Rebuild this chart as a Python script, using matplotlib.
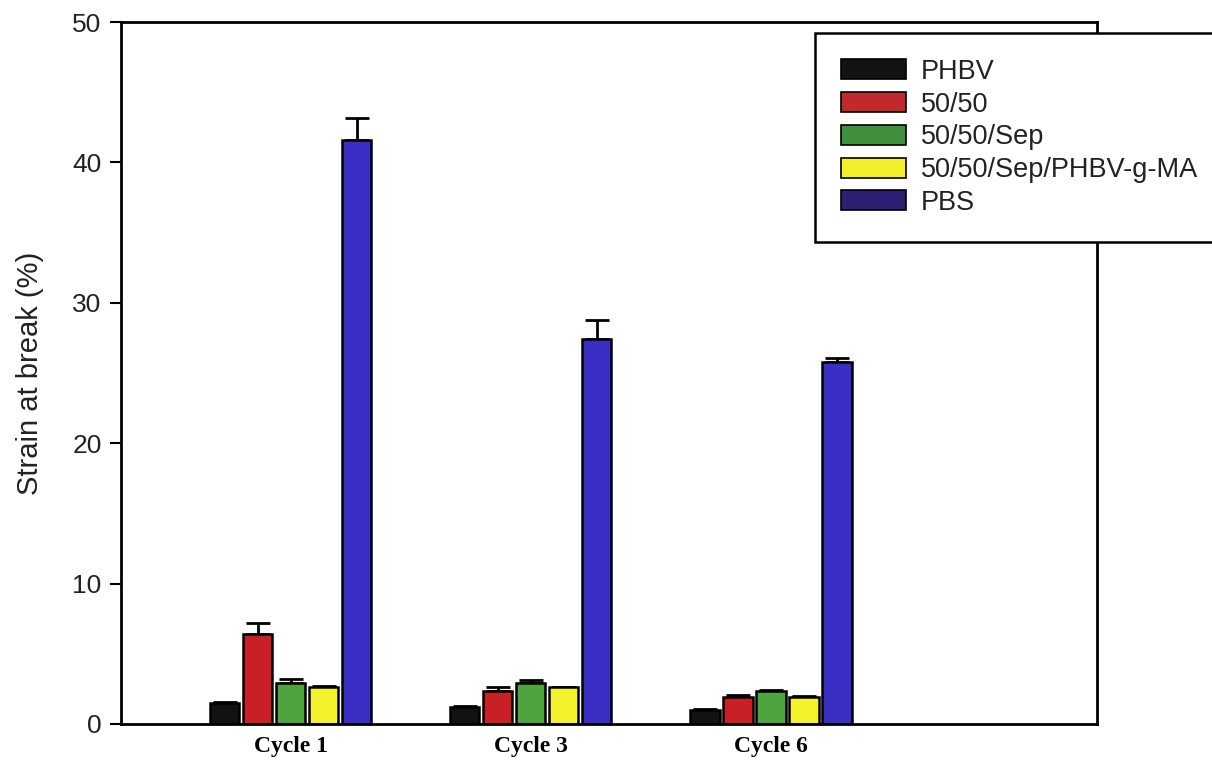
import matplotlib.pyplot as plt
from matplotlib.patches import Patch
import numpy as np

# データ
cycles = ['Cycle 1', 'Cycle 3', 'Cycle 6']
series = ['PHBV', '50/50', '50/50/Sep', '50/50/Sep/PHBV-g-MA', 'PBS']
phbv = [1.5, 1.2, 1.0]
blend = [6.4, 2.35, 1.9]
blend_sep = [2.9, 2.9, 2.35]
blend_sep_ma = [2.6, 2.6, 1.9]
pbs = [41.6, 27.4, 25.8]
phbv_err = [0.1, 0.1, 0.05]
blend_err = [0.8, 0.25, 0.15]
blend_sep_err = [0.3, 0.2, 0.05]
blend_sep_ma_err = [0.1, 0.05, 0.1]
pbs_err = [1.6, 1.4, 0.3]

values = [phbv, blend, blend_sep, blend_sep_ma, pbs]
errors = [phbv_err, blend_err, blend_sep_err, blend_sep_ma_err, pbs_err]
colors = ['#121212', '#c82024', '#4ea43e', '#f4f22a', '#3a2fc4']
legend_colors = ['#121212', '#c02a2a', '#3f8f3f', '#f2f02a', '#2a1f72']

fig = plt.figure(figsize=(12.12, 7.64), dpi=100)
ax = fig.add_axes([0.0998, 0.0524, 0.8053, 0.9187])

x = np.arange(len(cycles))
w = 0.121
step = 0.1375
for i in range(len(series)):
    pos = x + (i - 2) * step
    ax.bar(pos, values[i], w, color=colors[i], edgecolor='black', linewidth=1.8, zorder=2)
    ax.errorbar(pos, values[i], yerr=[np.zeros(3), errors[i]], fmt='none',
                ecolor='black', elinewidth=2, capsize=8.5, capthick=2, zorder=1)

ax.set_xlim(-0.708, 3.358)
ax.set_ylim(0, 50)
ax.set_yticks([0, 10, 20, 30, 40, 50])
ax.set_xticks(x)
ax.set_xticklabels(cycles, fontfamily='Liberation Serif', fontweight='bold', fontsize=17)
ax.tick_params(axis='x', length=0, pad=9)
ax.tick_params(axis='y', direction='out', length=8, width=1.5, labelsize=19, pad=6)
for lab in ax.get_yticklabels():
    lab.set_fontfamily('Liberation Sans')
    lab.set_color('#222222')
ax.set_ylabel('Strain at break (%)', fontsize=21, fontfamily='Liberation Sans',
              color='#222222', labelpad=20)
for s in ax.spines.values():
    s.set_linewidth(2)

handles = [Patch(facecolor=legend_colors[i], edgecolor='black', linewidth=1.2) for i in range(len(series))]
leg = fig.legend(handles, series, loc='upper left', bbox_to_anchor=(0.6725, 0.70, 0.4, 0.2568),
                 mode='expand', frameon=True, fancybox=False, edgecolor='black', framealpha=1,
                 handlelength=2.4, handleheight=0.75, handletextpad=0.55, labelspacing=0.25,
                 borderpad=0.95, borderaxespad=0, prop={'family': 'Liberation Sans', 'size': 19.5})
leg.get_frame().set_linewidth(1.8)
for t in leg.get_texts():
    t.set_color('#222222')

plt.savefig('out.png', dpi=100)
